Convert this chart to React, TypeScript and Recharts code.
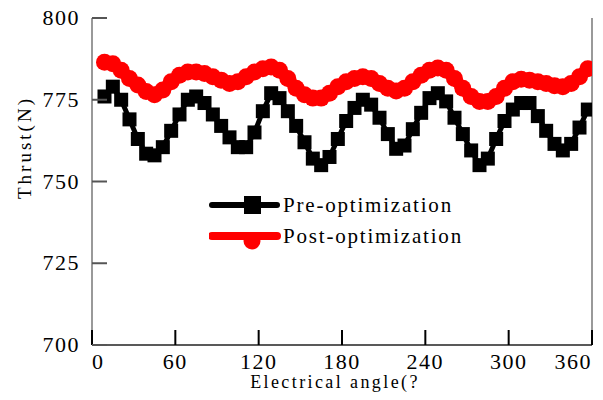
import { LineChart, Line, XAxis, YAxis, Legend, ReferenceLine } from 'recharts';

// electrical angle (deg), sampled every 6 degrees
const ANGLES = [
  9, 15, 21, 27, 33, 39, 45, 51, 57, 63, 69, 75, 81, 87, 93, 99, 105, 111, 117, 123,
  129, 135, 141, 147, 153, 159, 165, 171, 177, 183, 189, 195, 201, 207, 213, 219, 225, 231, 237, 243,
  249, 255, 261, 267, 273, 279, 285, 291, 297, 303, 309, 315, 321, 327, 333, 339, 345, 351, 357,
];

const PRE_OPT = [
  776, 779, 775, 769, 763, 758.5, 758, 760.5, 765.5, 770.5, 775, 776, 774, 770.5, 767, 763.5, 760.5, 760.5, 765, 771.5,
  777, 775.5, 771.5, 767, 762, 757, 755, 757.5, 763, 768.5, 772.5, 775, 773.5, 769.5, 764.5, 760, 761, 766, 771, 775.5,
  777, 774.5, 769.5, 764.5, 759.5, 755, 757, 763, 768.5, 772, 774, 774, 770, 765.5, 761.5, 759.5, 761.5, 766.5, 772,
];

const POST_OPT = [
  786.5, 786, 784, 781.5, 779.5, 777.5, 776.5, 778, 780.5, 782.5, 783.5, 783.5, 783, 782, 781, 780, 780.5, 782, 783.5, 784.5,
  785, 784, 781.5, 778.5, 776.5, 775.5, 775.5, 777, 779, 780.5, 781.5, 782, 781.5, 780, 778.5, 777.7, 778.5, 780.5, 782.5, 784,
  784.7, 784, 781.5, 778.5, 776, 774.5, 774.5, 776, 778.5, 780.5, 781.3, 781, 780.5, 780, 779.3, 779, 780, 782, 784.5,
];

const X_TICKS = [0, 60, 120, 180, 240, 300, 360];
const Y_TICKS = [700, 725, 750, 775, 800];

const SERIES = [
  { key: 'pre', name: 'Pre-optimization', color: '#000000' },
  { key: 'post', name: 'Post-optimization', color: '#ff0000' },
];

const data = ANGLES.map((a, i) => ({ angle: a, pre: PRE_OPT[i], post: POST_OPT[i] }));

const FONT = '"Liberation Serif", "Times New Roman", serif';
const TICK_LEN = 15; // ticks point into the plot area
const X_MARGIN = 24;
const Y_MARGIN = 27;

function YTick({ x, y, payload }: any) {
  const px = Number(x);
  const py = Number(y);
  const axisX = px + Y_MARGIN - TICK_LEN;
  return (
    <g>
      <line x1={axisX} x2={axisX + TICK_LEN} y1={py} y2={py} stroke="#555" strokeWidth={2} />
      <text x={px} y={py} dy={7} textAnchor="end" fontFamily={FONT} fontSize={22} letterSpacing={1.5} fill="#000">
        {payload.value}
      </text>
    </g>
  );
}

function XTick({ x, y, payload }: any) {
  const px = Number(x);
  const py = Number(y);
  const axisY = py - X_MARGIN + TICK_LEN;
  // end labels are pulled inside the frame, like the original
  let anchor = 'middle';
  if (payload.value === X_TICKS[0]) anchor = 'start';
  if (payload.value === X_TICKS[X_TICKS.length - 1]) anchor = 'end';
  return (
    <g>
      <line x1={px} x2={px} y1={axisY} y2={axisY - TICK_LEN} stroke="#000" strokeWidth={2} />
      <text x={px} y={py} dy={15} textAnchor={anchor} fontFamily={FONT} fontSize={22} letterSpacing={1.5} fill="#000">
        {payload.value}
      </text>
    </g>
  );
}

function YTitle({ viewBox }: any) {
  const cy = viewBox ? viewBox.y + viewBox.height / 2 : 181;
  return (
    <text
      x={0}
      y={0}
      transform={`translate(31, ${cy - 34}) rotate(-90)`}
      textAnchor="middle"
      fontFamily={FONT}
      fontSize={19}
      letterSpacing={3}
      fill="#000"
    >
      Thrust(N)
    </text>
  );
}

function XTitle({ viewBox }: any) {
  const cx = viewBox ? viewBox.x + viewBox.width / 2 : 342;
  const top = viewBox ? viewBox.y : 345;
  return (
    <text x={cx - 7} y={top + 43} textAnchor="middle" fontFamily={FONT} fontSize={18} letterSpacing={2.4} fill="#000">
      Electrical angle(?
    </text>
  );
}

function SquareDot(props: any) {
  const { cx, cy, index } = props;
  return <rect key={`sq-${index}`} x={cx - 7} y={cy - 7} width={14} height={14} fill="#000" />;
}

function LegendBox() {
  return (
    <div style={{ fontFamily: FONT, fontSize: 21, letterSpacing: 1.8, color: '#000', lineHeight: '31px' }}>
      {SERIES.map((s) => (
        <div key={s.key} style={{ display: 'flex', alignItems: 'center', height: 31 }}>
          <svg width={72} height={31} style={{ marginRight: 2 }}>
            <line x1={3} x2={68} y1={15} y2={15} stroke={s.color} strokeWidth={s.key === 'pre' ? 6 : 8} strokeLinecap="round" />
            {s.key === 'pre' ? (
              <rect x={35} y={6} width={17} height={18} fill={s.color} />
            ) : (
              <circle cx={43} cy={20} r={8.5} fill={s.color} />
            )}
          </svg>
          <span>{s.name}</span>
        </div>
      ))}
    </div>
  );
}

export default function App() {
  return (
    <div style={{ position: 'absolute', left: 0, top: 0, width: 603, height: 400, background: '#fff' }}>
      <LineChart width={603} height={400} data={data} margin={{ top: 18, right: 11, left: 0, bottom: 0 }}>
        <XAxis
          dataKey="angle"
          type="number"
          domain={[0, 360]}
          allowDataOverflow
          ticks={X_TICKS}
          interval={0}
          height={55}
          tickSize={-TICK_LEN}
          tickMargin={X_MARGIN}
          tickLine={false}
          tick={<XTick />}
          axisLine={{ stroke: '#222', strokeWidth: 1.5 }}
          label={<XTitle />}
        />
        <YAxis
          type="number"
          domain={[700, 800]}
          ticks={Y_TICKS}
          interval={0}
          width={92}
          tickSize={-TICK_LEN}
          tickMargin={Y_MARGIN}
          tickLine={false}
          tick={<YTick />}
          axisLine={{ stroke: '#777', strokeWidth: 1.5 }}
          label={<YTitle />}
        />
        <ReferenceLine x={360} stroke="#777" strokeWidth={1.5} />
        <Legend
          layout="vertical"
          align="center"
          verticalAlign="middle"
          content={<LegendBox />}
          wrapperStyle={{ left: 209, top: 190, width: 'auto' }}
        />
        <Line
          dataKey="post"
          name="Post-optimization"
          type="linear"
          stroke="#ff0000"
          strokeWidth={12}
          dot={{ r: 8.5, fill: '#ff0000', stroke: '#ff0000', strokeWidth: 0 }}
          isAnimationActive={false}
        />
        <Line
          dataKey="pre"
          name="Pre-optimization"
          type="linear"
          stroke="#000000"
          strokeWidth={5}
          dot={SquareDot}
          isAnimationActive={false}
        />
      </LineChart>
    </div>
  );
}
